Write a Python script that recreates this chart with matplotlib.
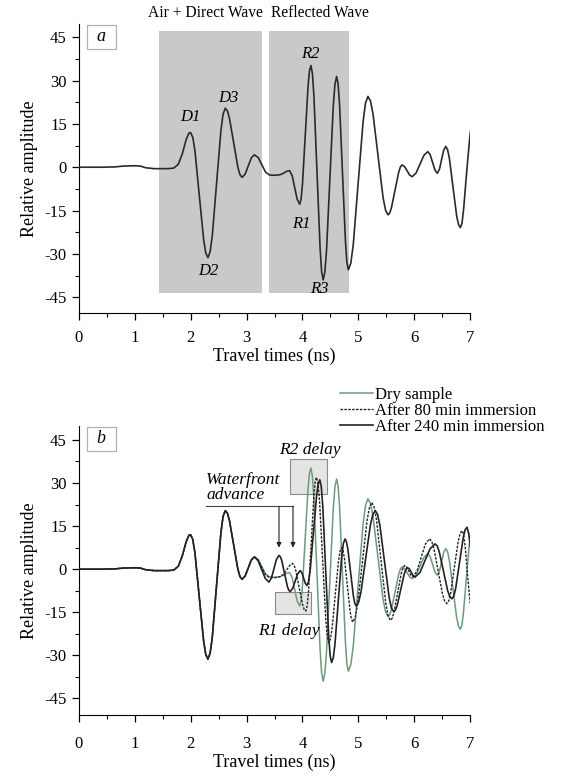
import numpy as np
import matplotlib
matplotlib.use("Agg")
import matplotlib.pyplot as plt
from matplotlib.patches import Rectangle
from matplotlib.ticker import MultipleLocator

plt.rcParams['font.family'] = ['Liberation Serif', 'DejaVu Serif']
plt.rcParams['font.size'] = 12

# ---------------------------
# Data (time in ns, relative amplitude)
# ---------------------------
# dry sample (panel a, and green curve in panel b)
t_dry = [0.00, 0.40, 0.65, 0.80, 1.00, 1.10, 1.20, 1.35, 1.60, 1.70,
         1.78, 1.85, 1.92, 1.97, 2.00,
         2.039, 2.078, 2.155, 2.233, 2.271, 2.31,
         2.349, 2.388, 2.465, 2.543, 2.581, 2.62,
         2.658, 2.695, 2.77, 2.845, 2.883, 2.92,
         2.975, 3.03, 3.085, 3.14,
         3.21, 3.275, 3.34, 3.41, 3.50, 3.60,
         3.67, 3.72, 3.77,
         3.815, 3.86, 3.905, 3.95,
         3.975, 4.00, 4.05, 4.10, 4.125, 4.15,
         4.1775, 4.205, 4.26, 4.315, 4.3425, 4.37,
         4.40, 4.43, 4.49, 4.55, 4.58, 4.61,
         4.636, 4.663, 4.715, 4.768, 4.794, 4.82,
         4.864, 4.908, 4.995, 5.083, 5.126, 5.17,
         5.215, 5.26, 5.35, 5.44, 5.485, 5.53,
         5.56, 5.59, 5.655, 5.72, 5.75, 5.78,
         5.825, 5.87, 5.915, 5.96,
         6.03, 6.10, 6.17, 6.24,
         6.283, 6.325, 6.368, 6.41,
         6.448, 6.485, 6.523, 6.56,
         6.593, 6.625, 6.69, 6.755, 6.788, 6.82,
         6.85, 6.88, 6.92, 6.96, 7.00]
a_dry = [0.0, 0.0, 0.1, 0.4, 0.5, 0.4, -0.2, -0.5, -0.5, -0.3,
         1.0, 4.5, 9.5, 11.8, 12.0,
         10.35, 5.68, -9.65, -24.98, -29.65, -31.3,
         -29.3, -23.75, -5.45, 12.85, 18.4, 20.4,
         19.5, 16.9, 8.45, 0.0, -2.6, -3.5,
         -2.4, 0.4, 3.2, 4.3,
         3.3, 0.8, -1.7, -2.7, -2.8, -2.6,
         -2.0, -1.4, -1.2,
         -2.9, -7.0, -11.1, -12.8,
         -11.0, -5.8, 11.2, 28.2, 33.4, 35.2,
         32.4, 24.4, -1.9, -28.2, -36.2, -39.0,
         -36.3, -28.7, -3.8, 21.1, 28.7, 31.4,
         28.9, 21.6, -2.05, -25.7, -33.0, -35.5,
         -33.2, -26.7, -5.5, 15.7, 22.2, 24.5,
         22.9, 18.5, 4.0, -10.5, -14.9, -16.5,
         -15.8, -14.0, -7.85, -1.7, 0.1, 0.8,
         0.2, -1.25, -2.7, -3.3,
         -2.0, 1.05, 4.1, 5.4,
         4.3, 1.65, -1.0, -2.1,
         -0.7, 2.55, 5.8, 7.2,
         6.1, 3.1, -6.85, -16.8, -19.8, -20.9,
         -19.5, -14.5, -5.0, 4.0, 12.3]

# common early part shared by the wet curves (up to t = 3.14 ns)
n_common = t_dry.index(3.14) + 1

# after 80 min immersion (dashed)
t_80 = t_dry[:n_common] + [
    3.205, 3.27, 3.335, 3.40, 3.50, 3.60,
    3.66, 3.72, 3.77, 3.82,
    3.85, 3.88, 3.94, 4.00, 4.03, 4.06,
    4.084, 4.108, 4.155, 4.203, 4.226, 4.25,
    4.278, 4.305, 4.36, 4.415, 4.443, 4.47,
    4.499, 4.528, 4.585, 4.643, 4.671, 4.70,
    4.725, 4.75, 4.80, 4.85, 4.875, 4.90,
    4.943, 4.985, 5.07, 5.155, 5.198, 5.24,
    5.281, 5.323, 5.405, 5.488, 5.529, 5.57,
    5.603, 5.635, 5.70, 5.765, 5.798, 5.83,
    5.865, 5.90, 5.935, 5.97,
    6.045, 6.12, 6.195, 6.27,
    6.309, 6.348, 6.425, 6.503, 6.541, 6.58,
    6.614, 6.648, 6.715, 6.783, 6.816, 6.85,
    6.875, 6.91, 6.95, 6.98, 7.00]
a_80 = a_dry[:n_common] + [
    3.3, 0.75, -1.8, -2.8, -3.0, -2.6,
    -1.8, -0.2, 1.3, 2.0,
    1.4, -0.4, -6.3, -12.2, -14.0, -14.6,
    -12.8, -7.8, 8.7, 25.2, 30.2, 32.0,
    29.8, 23.6, 3.2, -17.2, -23.4, -25.6,
    -24.3, -20.8, -9.05, 2.7, 6.2, 7.5,
    6.5, 3.7, -5.45, -14.6, -17.4, -18.4,
    -16.8, -12.3, 2.4, 17.1, 21.6, 23.2,
    21.6, 17.2, 2.7, -11.8, -16.2, -17.8,
    -17.1, -15.0, -8.25, -1.5, 0.6, 1.3,
    0.7, -0.65, -2.0, -2.6,
    -0.7, 4.0, 8.7, 10.6,
    9.7, 7.3, -0.7, -8.7, -11.1, -12.0,
    -11.0, -8.3, 0.7, 9.7, 12.4, 13.4,
    12.5, 7.5, -2.0, -8.5, -12.0]

# after 240 min immersion (solid black)
t_240 = t_dry[:n_common] + [
    3.205, 3.27, 3.335, 3.40,
    3.445, 3.49, 3.535, 3.58,
    3.605, 3.63, 3.68, 3.73, 3.755, 3.78,
    3.825, 3.87, 3.915, 3.96,
    3.99, 4.02, 4.05, 4.08,
    4.109, 4.138, 4.195, 4.253, 4.281, 4.31,
    4.336, 4.363, 4.415, 4.468, 4.494, 4.52,
    4.55, 4.58, 4.64, 4.70, 4.73, 4.76,
    4.785, 4.81, 4.86, 4.91, 4.935, 4.96,
    5.003, 5.045, 5.13, 5.215, 5.258, 5.30,
    5.341, 5.383, 5.465, 5.548, 5.589, 5.63,
    5.661, 5.693, 5.755, 5.818, 5.849, 5.88,
    5.913, 5.945, 5.978, 6.01,
    6.10, 6.19, 6.28, 6.37,
    6.408, 6.445, 6.52, 6.595, 6.633, 6.67,
    6.704, 6.738, 6.805, 6.873, 6.906, 6.94,
    6.97, 7.00]
a_240 = a_dry[:n_common] + [
    3.0, -0.1, -3.2, -4.5,
    -3.1, 0.15, 3.4, 4.8,
    4.3, 3.0, -1.5, -6.0, -7.3, -7.8,
    -6.7, -4.15, -1.6, -0.5,
    -1.3, -3.1, -4.9, -5.7,
    -4.3, -0.3, 12.7, 25.7, 29.7, 31.1,
    28.7, 21.8, -0.7, -23.2, -30.1, -32.5,
    -30.9, -26.2, -11.0, 4.2, 8.9, 10.5,
    9.6, 7.1, -1.15, -9.4, -11.9, -12.8,
    -11.5, -8.0, 3.8, 15.55, 19.1, 20.4,
    19.1, 15.3, 2.8, -9.7, -13.5, -14.8,
    -14.2, -12.6, -7.15, -1.7, -0.1, 0.5,
    0.0, -1.15, -2.3, -2.8,
    -1.1, 3.0, 7.1, 8.8,
    8.1, 6.0, -0.75, -7.5, -9.6, -10.3,
    -9.4, -6.7, 2.15, 11.0, 13.7, 14.6,
    12.5, 8.0]

legend_labels = ["Dry sample", "After 80 min immersion", "After 240 min immersion"]
xticks = [0, 1, 2, 3, 4, 5, 6, 7]
yticks = [-45, -30, -15, 0, 15, 30, 45]

c_dry = '#6f9a7a'
c_dark = '#222222'


def style_axes(ax, ylim, xpad):
    ax.set_xlim(0, 7)
    ax.set_ylim(*ylim)
    ax.spines['top'].set_visible(False)
    ax.spines['right'].set_visible(False)
    ax.set_xticks(xticks)
    ax.set_yticks(yticks)
    ax.set_yticklabels([str(v) for v in yticks])
    ax.xaxis.set_minor_locator(MultipleLocator(0.5))
    ax.yaxis.set_minor_locator(MultipleLocator(7.5))
    ax.tick_params(which='major', direction='out', length=5, width=0.9, labelsize=12)
    ax.tick_params(axis='x', which='major', pad=xpad)
    ax.tick_params(which='minor', direction='out', length=3, width=0.8)
    ax.set_xlabel("Travel times (ns)", fontsize=13, labelpad=1)
    ax.set_ylabel("Relative amplitude", fontsize=13, labelpad=5)


def panel_tag(ax, s):
    ax.add_patch(Rectangle((0.020, 0.915), 0.075, 0.082, transform=ax.transAxes,
                           fc='white', ec='#b0b0b0', lw=0.9, zorder=5))
    ax.text(0.057, 0.956, s, transform=ax.transAxes, ha='center', va='center',
            style='italic', fontsize=13, zorder=6)


fig = plt.figure(figsize=(5.66, 7.79), dpi=100)

# ---------------------------
# Panel a
# ---------------------------
ax1 = fig.add_axes([0.139, 0.598, 0.692, 0.371])
style_axes(ax1, (-50.5, 49.5), 7)
ax1.fill_between([1.43, 3.28], -43.6, 47.0, color='#c9c9c9', lw=0, zorder=1)
ax1.fill_between([3.41, 4.84], -43.6, 47.0, color='#c9c9c9', lw=0, zorder=1)
ax1.plot(t_dry, a_dry, color='#2a2a2a', lw=1.2, zorder=3)
ax1.text(2.27, 50.6, "Air + Direct Wave", ha='center', va='bottom', fontsize=11.2)
ax1.text(4.32, 50.6, "Reflected Wave", ha='center', va='bottom', fontsize=11.2)
for lab, x, y in [("D1", 2.00, 17.2), ("D2", 2.32, -35.9), ("D3", 2.67, 24.1),
                  ("R1", 3.98, -19.5), ("R2", 4.14, 39.2), ("R3", 4.31, -42.0)]:
    ax1.text(x, y, lab, ha='center', va='center', style='italic', fontsize=12, zorder=4)
panel_tag(ax1, 'a')

# ---------------------------
# Panel b
# ---------------------------
ax2 = fig.add_axes([0.139, 0.082, 0.692, 0.371])
style_axes(ax2, (-50.8, 49.8), 10)
ax2.add_patch(Rectangle((3.78, 26.1), 0.65, 12.2, fc='#e4e4e4', ec='#8a8a8a', lw=0.8, zorder=1))
ax2.add_patch(Rectangle((3.50, -15.5), 0.66, 7.5, fc='#e4e4e4', ec='#8a8a8a', lw=0.8, zorder=1))
l1, = ax2.plot(t_dry, a_dry, color=c_dry, lw=1.1, zorder=2)
l2, = ax2.plot(t_80, a_80, color=c_dark, lw=1.0, ls=(0, (1.8, 1)), zorder=3)
l3, = ax2.plot(t_240, a_240, color=c_dark, lw=1.2, zorder=4)

ax2.text(4.13, 41.5, "R2 delay", ha='center', va='center', style='italic', fontsize=12.5)
ax2.text(3.75, -21.5, "R1 delay", ha='center', va='center', style='italic', fontsize=12.5, zorder=5)
ax2.text(2.28, 23.0, "Waterfront\nadvance", ha='left', va='bottom', style='italic',
         fontsize=12.5, linespacing=0.95)
ax2.plot([2.28, 3.83], [21.9, 21.9], color='#444444', lw=0.8, zorder=5)
for xa in [3.58, 3.83]:
    ax2.annotate("", xy=(xa, 7.5), xytext=(xa, 21.9),
                 arrowprops=dict(arrowstyle='-|>', color='#222222', lw=0.8,
                                 mutation_scale=7, shrinkA=0, shrinkB=0), zorder=5)
panel_tag(ax2, 'b')

ax2.legend([l1, l2, l3], legend_labels, loc='upper left',
           bbox_to_anchor=(0.600, 0.503), bbox_transform=fig.transFigure,
           frameon=False, fontsize=12, handlelength=2.0, handletextpad=0.1,
           labelspacing=0.0, borderpad=0, borderaxespad=0)

fig.savefig("out.png", dpi=100)
